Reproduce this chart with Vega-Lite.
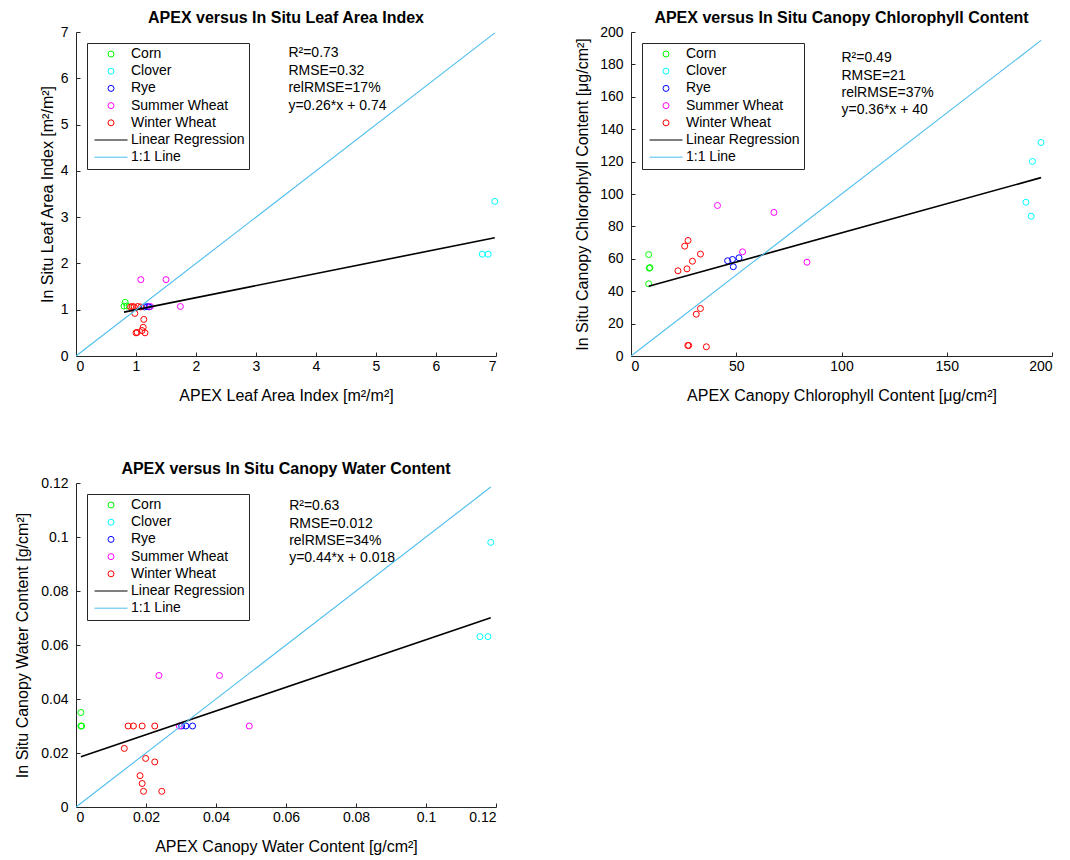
{
  "$schema": "https://vega.github.io/schema/vega-lite/v6.json",
  "background": "white",
  "padding": {"left": 14, "top": 10, "right": 0, "bottom": 3},
  "config": {
    "font": "Liberation Sans",
    "view": {"stroke": null},
    "axis": {
      "grid": false,
      "domainColor": "#262626",
      "tickColor": "#262626",
      "labelColor": "#000000",
      "titleColor": "#000000",
      "labelFontSize": 14,
      "titleFontSize": 16,
      "titleFontWeight": "normal",
      "tickSize": -4,
      "labelFont": "Liberation Sans",
      "titleFont": "Liberation Sans"
    },
    "axisX": {"titlePadding": 14, "labelPadding": 7},
    "axisY": {"titlePadding": 5, "labelPadding": 12},
    "title": {"fontSize": 16, "fontWeight": "bold", "font": "Liberation Sans", "color": "#000000", "offset": -1, "anchor": "middle", "frame": "group"},
    "legend": {
      "orient": "top-left",
      "offset": 11,
      "title": null,
      "strokeColor": "#262626",
      "fillColor": "white",
      "padding": 4,
      "labelFontSize": 14,
      "labelFont": "Liberation Sans",
      "labelColor": "#000000",
      "labelExpr": "datum.label + '   '",
      "symbolSize": 36,
      "symbolStrokeWidth": 1,
      "symbolOffset": 13,
      "labelOffset": 13,
      "rowPadding": 3.2,
      "symbolFillColor": "transparent"
    }
  },
  "datasets": {
    "lai": [
      {"crop": "Corn", "apex": 0.82, "insitu": 1.16},
      {"crop": "Corn", "apex": 0.80, "insitu": 1.08},
      {"crop": "Corn", "apex": 0.85, "insitu": 1.08},
      {"crop": "Clover", "apex": 6.77, "insitu": 2.20},
      {"crop": "Clover", "apex": 6.87, "insitu": 2.20},
      {"crop": "Clover", "apex": 6.98, "insitu": 3.34},
      {"crop": "Rye", "apex": 1.14, "insitu": 1.06},
      {"crop": "Rye", "apex": 1.19, "insitu": 1.07},
      {"crop": "Rye", "apex": 1.22, "insitu": 1.06},
      {"crop": "Summer Wheat", "apex": 1.08, "insitu": 1.65},
      {"crop": "Summer Wheat", "apex": 1.50, "insitu": 1.65},
      {"crop": "Summer Wheat", "apex": 1.24, "insitu": 1.07},
      {"crop": "Summer Wheat", "apex": 1.74, "insitu": 1.07},
      {"crop": "Winter Wheat", "apex": 0.91, "insitu": 1.06},
      {"crop": "Winter Wheat", "apex": 0.94, "insitu": 1.07},
      {"crop": "Winter Wheat", "apex": 0.97, "insitu": 1.06},
      {"crop": "Winter Wheat", "apex": 1.03, "insitu": 1.07},
      {"crop": "Winter Wheat", "apex": 1.08, "insitu": 1.06},
      {"crop": "Winter Wheat", "apex": 0.98, "insitu": 0.92},
      {"crop": "Winter Wheat", "apex": 1.13, "insitu": 0.79},
      {"crop": "Winter Wheat", "apex": 1.12, "insitu": 0.62},
      {"crop": "Winter Wheat", "apex": 1.10, "insitu": 0.55},
      {"crop": "Winter Wheat", "apex": 1.00, "insitu": 0.50},
      {"crop": "Winter Wheat", "apex": 1.02, "insitu": 0.51},
      {"crop": "Winter Wheat", "apex": 1.15, "insitu": 0.50}
    ],
    "lai_lines": [
      {"crop": "Linear Regression", "apex": 0.80, "insitu": 0.948},
      {"crop": "Linear Regression", "apex": 6.98, "insitu": 2.555},
      {"crop": "1:1 Line", "apex": 0, "insitu": 0},
      {"crop": "1:1 Line", "apex": 6.98, "insitu": 6.98}
    ],
    "chl": [
      {"crop": "Corn", "apex": 8.4, "insitu": 62.6},
      {"crop": "Corn", "apex": 8.7, "insitu": 54.2},
      {"crop": "Corn", "apex": 9.0, "insitu": 54.6},
      {"crop": "Corn", "apex": 8.4, "insitu": 44.6},
      {"crop": "Clover", "apex": 194.8, "insitu": 131.8},
      {"crop": "Clover", "apex": 190.7, "insitu": 120.1},
      {"crop": "Clover", "apex": 187.6, "insitu": 94.9},
      {"crop": "Clover", "apex": 190.1, "insitu": 86.3},
      {"crop": "Rye", "apex": 45.9, "insitu": 58.8},
      {"crop": "Rye", "apex": 48.2, "insitu": 59.6},
      {"crop": "Rye", "apex": 51.3, "insitu": 60.6},
      {"crop": "Rye", "apex": 48.6, "insitu": 55.1},
      {"crop": "Summer Wheat", "apex": 41.1, "insitu": 92.9},
      {"crop": "Summer Wheat", "apex": 67.9, "insitu": 88.6},
      {"crop": "Summer Wheat", "apex": 53.0, "insitu": 64.3},
      {"crop": "Summer Wheat", "apex": 83.6, "insitu": 57.9},
      {"crop": "Winter Wheat", "apex": 27.1, "insitu": 71.3},
      {"crop": "Winter Wheat", "apex": 25.5, "insitu": 67.8},
      {"crop": "Winter Wheat", "apex": 33.0, "insitu": 62.9},
      {"crop": "Winter Wheat", "apex": 29.2, "insitu": 58.5},
      {"crop": "Winter Wheat", "apex": 22.3, "insitu": 52.6},
      {"crop": "Winter Wheat", "apex": 26.6, "insitu": 53.8},
      {"crop": "Winter Wheat", "apex": 33.0, "insitu": 29.3},
      {"crop": "Winter Wheat", "apex": 31.0, "insitu": 25.8},
      {"crop": "Winter Wheat", "apex": 27.0, "insitu": 6.5},
      {"crop": "Winter Wheat", "apex": 27.4, "insitu": 6.5},
      {"crop": "Winter Wheat", "apex": 35.8, "insitu": 5.7}
    ],
    "chl_lines": [
      {"crop": "Linear Regression", "apex": 8.4, "insitu": 43.0},
      {"crop": "Linear Regression", "apex": 194.8, "insitu": 110.1},
      {"crop": "1:1 Line", "apex": 0, "insitu": 0},
      {"crop": "1:1 Line", "apex": 194.8, "insitu": 194.8}
    ],
    "cwc": [
      {"crop": "Corn", "apex": 0.0014, "insitu": 0.035},
      {"crop": "Corn", "apex": 0.0014, "insitu": 0.030},
      {"crop": "Corn", "apex": 0.0016, "insitu": 0.030},
      {"crop": "Clover", "apex": 0.1154, "insitu": 0.0631},
      {"crop": "Clover", "apex": 0.1177, "insitu": 0.0631},
      {"crop": "Clover", "apex": 0.1185, "insitu": 0.098},
      {"crop": "Rye", "apex": 0.0302, "insitu": 0.030},
      {"crop": "Rye", "apex": 0.0314, "insitu": 0.030},
      {"crop": "Rye", "apex": 0.0333, "insitu": 0.030},
      {"crop": "Summer Wheat", "apex": 0.0237, "insitu": 0.0487},
      {"crop": "Summer Wheat", "apex": 0.0410, "insitu": 0.0487},
      {"crop": "Summer Wheat", "apex": 0.0295, "insitu": 0.030},
      {"crop": "Summer Wheat", "apex": 0.0495, "insitu": 0.030},
      {"crop": "Winter Wheat", "apex": 0.0149, "insitu": 0.030},
      {"crop": "Winter Wheat", "apex": 0.0164, "insitu": 0.030},
      {"crop": "Winter Wheat", "apex": 0.0189, "insitu": 0.030},
      {"crop": "Winter Wheat", "apex": 0.0225, "insitu": 0.030},
      {"crop": "Winter Wheat", "apex": 0.0138, "insitu": 0.0217},
      {"crop": "Winter Wheat", "apex": 0.0199, "insitu": 0.018},
      {"crop": "Winter Wheat", "apex": 0.0225, "insitu": 0.0167},
      {"crop": "Winter Wheat", "apex": 0.0183, "insitu": 0.0116},
      {"crop": "Winter Wheat", "apex": 0.0189, "insitu": 0.0087},
      {"crop": "Winter Wheat", "apex": 0.0193, "insitu": 0.0058},
      {"crop": "Winter Wheat", "apex": 0.0245, "insitu": 0.0058}
    ],
    "cwc_lines": [
      {"crop": "Linear Regression", "apex": 0.0014, "insitu": 0.0186},
      {"crop": "Linear Regression", "apex": 0.1185, "insitu": 0.0701},
      {"crop": "1:1 Line", "apex": 0, "insitu": 0},
      {"crop": "1:1 Line", "apex": 0.1185, "insitu": 0.1185}
    ]
  },
  "columns": 2,
  "bounds": "flush",
  "spacing": {"column": 135, "row": 127},
  "resolve": {
    "scale": {"color": "independent", "shape": "independent"},
    "legend": {"color": "independent", "shape": "independent"}
  },
  "concat": [
    {
      "width": 420,
      "height": 324,
      "title": "APEX versus In Situ Leaf Area Index",
      "layer": [
        {
          "data": {"name": "lai"},
          "mark": {"type": "point", "filled": false, "size": 36, "strokeWidth": 1, "opacity": 1},
          "encoding": {
            "x": {"field": "apex", "type": "quantitative", "scale": {"domain": [0, 7], "nice": false}, "axis": {"title": "APEX Leaf Area Index [m²/m²]", "values": [0, 1, 2, 3, 4, 5, 6, 7], "format": "d"}},
            "y": {"field": "insitu", "type": "quantitative", "scale": {"domain": [0, 7], "nice": false}, "axis": {"title": "In Situ Leaf Area Index [m²/m²]", "values": [0, 1, 2, 3, 4, 5, 6, 7], "format": "d"}},
            "color": {"field": "crop", "type": "nominal", "scale": {"domain": ["Corn", "Clover", "Rye", "Summer Wheat", "Winter Wheat", "Linear Regression", "1:1 Line"], "range": ["#00ff00", "#00ffff", "#0000ff", "#ff00ff", "#ff0000", "#000000", "#4dbeee"]}},
            "shape": {"field": "crop", "type": "nominal", "scale": {"domain": ["Corn", "Clover", "Rye", "Summer Wheat", "Winter Wheat", "Linear Regression", "1:1 Line"], "range": ["circle", "circle", "circle", "circle", "circle", "M-5.5,0H5.5", "M-5.5,0H5.5"]}}
          }
        },
        {
          "data": {"name": "lai_lines"},
          "mark": {"type": "line"},
          "encoding": {
            "x": {"field": "apex", "type": "quantitative", "scale": {"domain": [0, 7], "nice": false}, "axis": {"title": "APEX Leaf Area Index [m²/m²]", "values": [0, 1, 2, 3, 4, 5, 6, 7], "format": "d"}},
            "y": {"field": "insitu", "type": "quantitative", "scale": {"domain": [0, 7], "nice": false}, "axis": {"title": "In Situ Leaf Area Index [m²/m²]", "values": [0, 1, 2, 3, 4, 5, 6, 7], "format": "d"}},
            "color": {"field": "crop", "type": "nominal"},
            "strokeWidth": {"field": "crop", "type": "nominal", "scale": {"domain": ["Linear Regression", "1:1 Line"], "range": [1.6, 1.1]}, "legend": null},
            "detail": {"field": "crop"}
          }
        },
        {
          "data": {"values": [{}]},
          "mark": {"type": "text", "align": "left", "baseline": "alphabetic", "fontSize": 14, "lineHeight": 17.4, "color": "#000000"},
          "encoding": {
            "x": {"datum": 3.54, "type": "quantitative", "scale": {"domain": [0, 7], "nice": false}, "axis": {"title": "APEX Leaf Area Index [m²/m²]", "values": [0, 1, 2, 3, 4, 5, 6, 7], "format": "d"}},
            "y": {"datum": 6.45, "type": "quantitative", "scale": {"domain": [0, 7], "nice": false}, "axis": {"title": "In Situ Leaf Area Index [m²/m²]", "values": [0, 1, 2, 3, 4, 5, 6, 7], "format": "d"}},
            "text": {"value": ["R²=0.73", "RMSE=0.32", "relRMSE=17%", "y=0.26*x + 0.74"]}
          }
        }
      ]
    },
    {
      "width": 421,
      "height": 324,
      "title": "APEX versus In Situ Canopy Chlorophyll Content",
      "layer": [
        {
          "data": {"name": "chl"},
          "mark": {"type": "point", "filled": false, "size": 36, "strokeWidth": 1, "opacity": 1},
          "encoding": {
            "x": {"field": "apex", "type": "quantitative", "scale": {"domain": [0, 200], "nice": false}, "axis": {"title": "APEX Canopy Chlorophyll Content [μg/cm²]", "values": [0, 50, 100, 150, 200], "format": "d"}},
            "y": {"field": "insitu", "type": "quantitative", "scale": {"domain": [0, 200], "nice": false}, "axis": {"title": "In Situ Canopy Chlorophyll Content [μg/cm²]", "values": [0, 20, 40, 60, 80, 100, 120, 140, 160, 180, 200], "format": "d", "titlePadding": 9}},
            "color": {"field": "crop", "type": "nominal", "scale": {"domain": ["Corn", "Clover", "Rye", "Summer Wheat", "Winter Wheat", "Linear Regression", "1:1 Line"], "range": ["#00ff00", "#00ffff", "#0000ff", "#ff00ff", "#ff0000", "#000000", "#4dbeee"]}},
            "shape": {"field": "crop", "type": "nominal", "scale": {"domain": ["Corn", "Clover", "Rye", "Summer Wheat", "Winter Wheat", "Linear Regression", "1:1 Line"], "range": ["circle", "circle", "circle", "circle", "circle", "M-5.5,0H5.5", "M-5.5,0H5.5"]}}
          }
        },
        {
          "data": {"name": "chl_lines"},
          "mark": {"type": "line"},
          "encoding": {
            "x": {"field": "apex", "type": "quantitative", "scale": {"domain": [0, 200], "nice": false}, "axis": {"title": "APEX Canopy Chlorophyll Content [μg/cm²]", "values": [0, 50, 100, 150, 200], "format": "d"}},
            "y": {"field": "insitu", "type": "quantitative", "scale": {"domain": [0, 200], "nice": false}, "axis": {"title": "In Situ Canopy Chlorophyll Content [μg/cm²]", "values": [0, 20, 40, 60, 80, 100, 120, 140, 160, 180, 200], "format": "d", "titlePadding": 9}},
            "color": {"field": "crop", "type": "nominal"},
            "strokeWidth": {"field": "crop", "type": "nominal", "scale": {"domain": ["Linear Regression", "1:1 Line"], "range": [1.6, 1.1]}, "legend": null},
            "detail": {"field": "crop"}
          }
        },
        {
          "data": {"values": [{}]},
          "mark": {"type": "text", "align": "left", "baseline": "alphabetic", "fontSize": 14, "lineHeight": 17.4, "color": "#000000"},
          "encoding": {
            "x": {"datum": 100, "type": "quantitative", "scale": {"domain": [0, 200], "nice": false}, "axis": {"title": "APEX Canopy Chlorophyll Content [μg/cm²]", "values": [0, 50, 100, 150, 200], "format": "d"}},
            "y": {"datum": 181.3, "type": "quantitative", "scale": {"domain": [0, 200], "nice": false}, "axis": {"title": "In Situ Canopy Chlorophyll Content [μg/cm²]", "values": [0, 20, 40, 60, 80, 100, 120, 140, 160, 180, 200], "format": "d", "titlePadding": 9}},
            "text": {"value": ["R²=0.49", "RMSE=21", "relRMSE=37%", "y=0.36*x + 40"]}
          }
        }
      ]
    },
    {
      "width": 420,
      "height": 324,
      "title": "APEX versus In Situ Canopy Water Content",
      "layer": [
        {
          "data": {"name": "cwc"},
          "mark": {"type": "point", "filled": false, "size": 36, "strokeWidth": 1, "opacity": 1},
          "encoding": {
            "x": {"field": "apex", "type": "quantitative", "scale": {"domain": [0, 0.12], "nice": false}, "axis": {"title": "APEX Canopy Water Content [g/cm²]", "values": [0, 0.02, 0.04, 0.06, 0.08, 0.1, 0.12], "format": ".2~f"}},
            "y": {"field": "insitu", "type": "quantitative", "scale": {"domain": [0, 0.12], "nice": false}, "axis": {"title": "In Situ Canopy Water Content [g/cm²]", "values": [0, 0.02, 0.04, 0.06, 0.08, 0.1, 0.12], "format": ".2~f", "titlePadding": 10}},
            "color": {"field": "crop", "type": "nominal", "scale": {"domain": ["Corn", "Clover", "Rye", "Summer Wheat", "Winter Wheat", "Linear Regression", "1:1 Line"], "range": ["#00ff00", "#00ffff", "#0000ff", "#ff00ff", "#ff0000", "#000000", "#4dbeee"]}},
            "shape": {"field": "crop", "type": "nominal", "scale": {"domain": ["Corn", "Clover", "Rye", "Summer Wheat", "Winter Wheat", "Linear Regression", "1:1 Line"], "range": ["circle", "circle", "circle", "circle", "circle", "M-5.5,0H5.5", "M-5.5,0H5.5"]}}
          }
        },
        {
          "data": {"name": "cwc_lines"},
          "mark": {"type": "line"},
          "encoding": {
            "x": {"field": "apex", "type": "quantitative", "scale": {"domain": [0, 0.12], "nice": false}, "axis": {"title": "APEX Canopy Water Content [g/cm²]", "values": [0, 0.02, 0.04, 0.06, 0.08, 0.1, 0.12], "format": ".2~f"}},
            "y": {"field": "insitu", "type": "quantitative", "scale": {"domain": [0, 0.12], "nice": false}, "axis": {"title": "In Situ Canopy Water Content [g/cm²]", "values": [0, 0.02, 0.04, 0.06, 0.08, 0.1, 0.12], "format": ".2~f", "titlePadding": 10}},
            "color": {"field": "crop", "type": "nominal"},
            "strokeWidth": {"field": "crop", "type": "nominal", "scale": {"domain": ["Linear Regression", "1:1 Line"], "range": [1.6, 1.1]}, "legend": null},
            "detail": {"field": "crop"}
          }
        },
        {
          "data": {"values": [{}]},
          "mark": {"type": "text", "align": "left", "baseline": "alphabetic", "fontSize": 14, "lineHeight": 17.4, "color": "#000000"},
          "encoding": {
            "x": {"datum": 0.0609, "type": "quantitative", "scale": {"domain": [0, 0.12], "nice": false}, "axis": {"title": "APEX Canopy Water Content [g/cm²]", "values": [0, 0.02, 0.04, 0.06, 0.08, 0.1, 0.12], "format": ".2~f"}},
            "y": {"datum": 0.1099, "type": "quantitative", "scale": {"domain": [0, 0.12], "nice": false}, "axis": {"title": "In Situ Canopy Water Content [g/cm²]", "values": [0, 0.02, 0.04, 0.06, 0.08, 0.1, 0.12], "format": ".2~f", "titlePadding": 10}},
            "text": {"value": ["R²=0.63", "RMSE=0.012", "relRMSE=34%", "y=0.44*x + 0.018"]}
          }
        }
      ]
    }
  ]
}
